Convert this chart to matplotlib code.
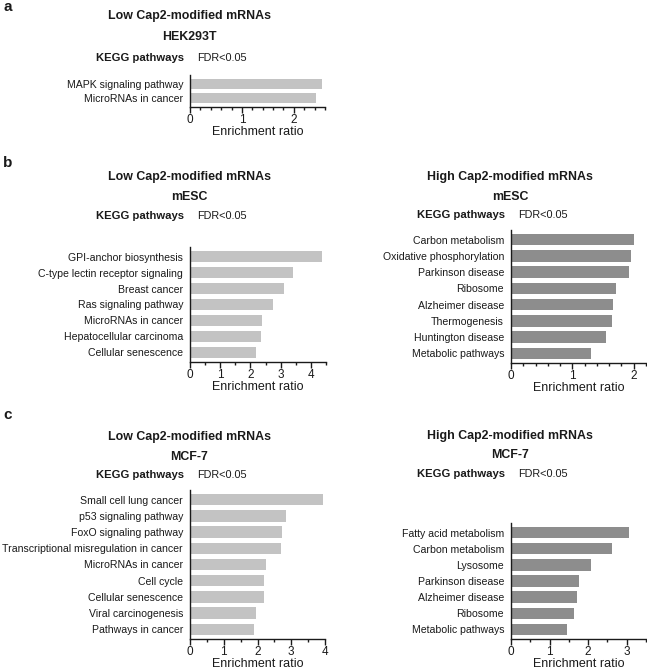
import matplotlib
matplotlib.use("Agg")
import matplotlib.pyplot as plt
from matplotlib.ticker import MultipleLocator

plt.rcParams['font.family'] = ['Liberation Sans', 'DejaVu Sans']

W, H = 647, 672
DPI = 100

# ---- data ----
a_low_hek_labels = ["MAPK signaling pathway", "MicroRNAs in cancer"]
a_low_hek_values = [2.55, 2.42]

b_low_mesc_labels = ["GPI-anchor biosynthesis", "C-type lectin receptor signaling", "Breast cancer",
                     "Ras signaling pathway", "MicroRNAs in cancer", "Hepatocellular carcinoma",
                     "Cellular senescence"]
b_low_mesc_values = [4.36, 3.42, 3.11, 2.76, 2.37, 2.34, 2.17]

b_high_mesc_labels = ["Carbon metabolism", "Oxidative phosphorylation", "Parkinson disease", "Ribosome",
                      "Alzheimer disease", "Thermogenesis", "Huntington disease", "Metabolic pathways"]
b_high_mesc_values = [2.01, 1.95, 1.92, 1.71, 1.67, 1.65, 1.55, 1.31]

c_low_mcf_labels = ["Small cell lung cancer", "p53 signaling pathway", "FoxO signaling pathway",
                    "Transcriptional misregulation in cancer", "MicroRNAs in cancer", "Cell cycle",
                    "Cellular senescence", "Viral carcinogenesis", "Pathways in cancer"]
c_low_mcf_values = [3.95, 2.84, 2.72, 2.70, 2.24, 2.20, 2.20, 1.96, 1.90]

c_high_mcf_labels = ["Fatty acid metabolism", "Carbon metabolism", "Lysosome", "Parkinson disease",
                     "Alzheimer disease", "Ribosome", "Metabolic pathways"]
c_high_mcf_values = [3.07, 2.63, 2.07, 1.77, 1.72, 1.64, 1.45]

LIGHT = "#c3c3c3"
DARK = "#8d8d8d"
INK = "#1a1a1a"

fig = plt.figure(figsize=(W / DPI, H / DPI), dpi=DPI)
fig.patch.set_facecolor("white")


def fx(px):
    return px / W


def fy(py):
    return 1 - py / H


def panel(labels, values, color, left, top, right, bottom, xmax, major, minor,
          title1, title2, title_y, hx):
    ax = fig.add_axes([fx(left), fy(bottom), fx(right - left), (bottom - top) / H])
    n = len(labels)
    ypos = list(range(n))
    ax.barh(ypos, values, height=0.7, color=color, edgecolor="none")
    ax.set_ylim(n - 0.4, -0.6)
    ax.set_xlim(0, xmax)
    ax.set_yticks(ypos)
    ax.set_yticklabels(labels, fontsize=7.6, color=INK)
    ax.tick_params(axis='y', length=0, pad=5)
    ax.xaxis.set_major_locator(MultipleLocator(major))
    ax.xaxis.set_minor_locator(MultipleLocator(minor))
    ax.tick_params(axis='x', which='major', length=4, width=1, labelsize=8.5, pad=1, colors=INK)
    ax.tick_params(axis='x', which='minor', length=2.5, width=1, colors=INK)
    for s in ['top', 'right']:
        ax.spines[s].set_visible(False)
    for s in ['left', 'bottom']:
        ax.spines[s].set_linewidth(1)
        ax.spines[s].set_color(INK)
    ax.set_xlabel("Enrichment ratio", fontsize=9, labelpad=0, color=INK)
    # titles
    fig.text(fx(hx), fy(title_y[0]), title1, ha='center', va='center', fontsize=8.9,
             fontweight='bold', color=INK)
    fig.text(fx(hx), fy(title_y[1]), title2, ha='center', va='center', fontsize=8.9,
             fontweight='bold', color=INK)
    fig.text(fx(left - 6), fy(title_y[2]), "KEGG pathways", ha='right', va='center', fontsize=8.1,
             fontweight='bold', color=INK)
    fig.text(fx(left + 7), fy(title_y[2]), "FDR<0.05", ha='left', va='center', fontsize=7.8,
             color=INK)
    return ax


panel(a_low_hek_labels, a_low_hek_values, LIGHT, 190, 75, 325, 107, 2.6, 1, 0.2,
      "Low Cap2-modified mRNAs", "HEK293T", (16, 37, 58), 189)
panel(b_low_mesc_labels, b_low_mesc_values, LIGHT, 190, 247, 326, 362, 4.5, 1, 0.5,
      "Low Cap2-modified mRNAs", "mESC", (177, 197, 216), 189)
panel(b_high_mesc_labels, b_high_mesc_values, DARK, 511, 230, 646, 363, 2.2, 1, 0.2,
      "High Cap2-modified mRNAs", "mESC", (177, 197, 215), 510)
panel(c_low_mcf_labels, c_low_mcf_values, LIGHT, 190, 490, 325, 639, 4, 1, 0.5,
      "Low Cap2-modified mRNAs", "MCF-7", (437, 457, 475), 189)
panel(c_high_mcf_labels, c_high_mcf_values, DARK, 511, 523, 646, 639, 3.5, 1, 0.5,
      "High Cap2-modified mRNAs", "MCF-7", (436, 455, 474), 510)

for lab, y in [("a", 7), ("b", 163), ("c", 415)]:
    fig.text(fx(3), fy(y), lab, ha='left', va='center', fontsize=11, fontweight='bold', color=INK)

fig.savefig("out.png", dpi=DPI, facecolor="white")
